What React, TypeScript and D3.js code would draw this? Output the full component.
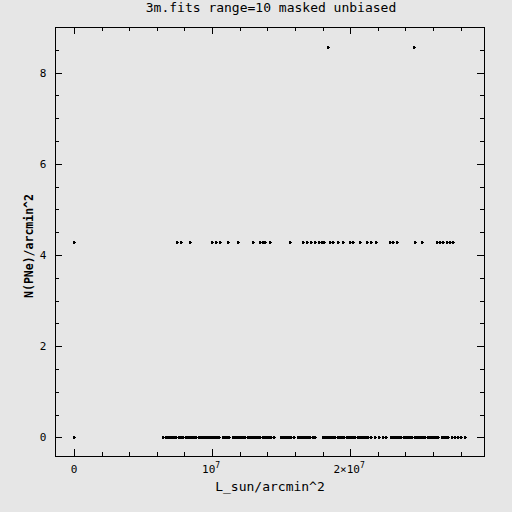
import React from 'react';
import * as d3 from 'd3';

// values in units of 1e7 L_sun/arcmin^2
const zeroRowX = [
  0, 0.645,
  0.667, 0.682, 0.697, 0.712, 0.727, 0.742, 0.757, 0.772, 0.787,
  0.812, 0.827, 0.842, 0.857, 0.872, 0.887, 0.902, 0.917, 0.932, 0.947, 0.962, 0.977, 0.992, 1.007, 1.022, 1.037, 1.052,
  1.080, 1.095, 1.110, 1.125,
  1.152, 1.167, 1.182, 1.197, 1.212, 1.227, 1.242, 1.257, 1.272, 1.287, 1.302, 1.317, 1.332, 1.347,
  1.370, 1.385, 1.400, 1.415, 1.430, 1.445,
  1.500, 1.515, 1.530, 1.545, 1.560, 1.575, 1.590,
  1.623, 1.638, 1.653, 1.668, 1.683, 1.698, 1.713, 1.728, 1.743,
  1.804, 1.819, 1.834, 1.849, 1.864, 1.879, 1.894, 1.909, 1.924, 1.939, 1.954,
  1.978, 1.993, 2.008, 2.023, 2.036,
  2.058, 2.073, 2.088, 2.103, 2.118, 2.133, 2.148,
  2.181, 2.210, 2.239, 2.261,
  2.297, 2.312, 2.327, 2.342, 2.357, 2.372, 2.387, 2.402, 2.417, 2.432, 2.447,
  2.471, 2.486, 2.501, 2.516, 2.531, 2.546, 2.561, 2.576, 2.591, 2.606, 2.621, 2.636,
  2.667, 2.682, 2.697, 2.712,
  2.739, 2.761, 2.783, 2.804, 2.833,
];

const oneRowX = [
  0, 0.744, 0.773, 0.841, 0.998, 1.029, 1.058, 1.118, 1.191, 1.295, 1.348, 1.367, 1.386, 1.420,
  1.565, 1.662, 1.686, 1.715, 1.746, 1.778, 1.795, 1.812, 1.855, 1.879, 1.915, 1.947,
  2.000, 2.024, 2.072, 2.121, 2.150, 2.188, 2.290, 2.314, 2.339, 2.471, 2.520,
  2.628, 2.652, 2.676, 2.701, 2.725, 2.749,
];

const twoRowX = [1.84, 2.46];

const densityLevels = [0, 4.28, 8.56];

const yMajorTicks = [0, 2, 4, 6, 8];
const xMajorTicks = [0, 1, 2];
const xTickLabels = ['0', '10', '2×10'];

const W = 512, H = 512;
const left = 55, right = 484, top = 27, bottom = 456;
const font = '"DejaVu Sans Mono", monospace';

export default function App() {
  const x = d3.scaleLinear().domain([-0.138, 2.97]).range([left, right]);
  const y = d3.scaleLinear().domain([-0.41, 9.0]).range([bottom, top]);

  const xMinor = d3.range(0, 2.97, 0.2);
  const yMinor = d3.range(0, 9.01, 0.5);

  const points: { px: number; py: number }[] = [];
  zeroRowX.forEach(v => points.push({ px: x(v), py: y(densityLevels[0]) }));
  oneRowX.forEach(v => points.push({ px: x(v), py: y(densityLevels[1]) }));
  twoRowX.forEach(v => points.push({ px: x(v), py: y(densityLevels[2]) }));

  const isMajorX = (v: number) => xMajorTicks.some(m => Math.abs(m - v) < 1e-6);
  const isMajorY = (v: number) => yMajorTicks.some(m => Math.abs(m - v) < 1e-6);

  return (
    <svg width={W} height={H} style={{ position: 'absolute', left: 0, top: 0, background: '#e6e6e6' }}
      shapeRendering="crispEdges">
      <rect x={0} y={0} width={W} height={H} fill="#e6e6e6" />
      <text x={271} y={12} textAnchor="middle" fontFamily={font} fontSize={13} fill="#000">
        3m.fits range=10 masked unbiased
      </text>

      {/* frame */}
      <rect x={left + 0.5} y={top + 0.5} width={right - left} height={bottom - top}
        fill="none" stroke="#000" strokeWidth={1} />

      {/* x ticks, bottom and top */}
      {xMinor.map((v, i) => {
        const px = Math.round(x(v)) + 0.5;
        const len = isMajorX(v) ? 7 : 4;
        return (
          <g key={'xt' + i} stroke="#000" strokeWidth={1}>
            <line x1={px} x2={px} y1={bottom} y2={bottom - len} />
            <line x1={px} x2={px} y1={top} y2={top + len} />
          </g>
        );
      })}
      {/* y ticks, left and right */}
      {yMinor.map((v, i) => {
        const py = Math.round(y(v)) + 0.5;
        const len = isMajorY(v) ? 7 : 4;
        return (
          <g key={'yt' + i} stroke="#000" strokeWidth={1}>
            <line x1={left} x2={left + len} y1={py} y2={py} />
            <line x1={right} x2={right - len} y1={py} y2={py} />
          </g>
        );
      })}

      {/* x tick labels */}
      {xMajorTicks.map((v, i) => (
        <text key={'xl' + i} x={x(v) + (i === 0 ? 0 : -1)} y={473} textAnchor="middle"
          fontFamily={font} fontSize={11} fill="#000">
          {xTickLabels[i]}
          {i > 0 && <tspan dy={-5} fontSize={8}>7</tspan>}
        </text>
      ))}
      {/* y tick labels */}
      {yMajorTicks.map((v, i) => (
        <text key={'yl' + i} x={43} y={y(v) + 4} textAnchor="middle"
          fontFamily={font} fontSize={11} fill="#000">
          {String(v)}
        </text>
      ))}

      <text x={270} y={491} textAnchor="middle" fontFamily={font} fontSize={13} fill="#000">
        L_sun/arcmin^2
      </text>
      <text transform={`translate(33,246) rotate(-90)`} textAnchor="middle"
        fontFamily={font} fontSize={11.5} fontWeight="bold" fill="#000">
        N(PNe)/arcmin^2
      </text>

      {/* markers */}
      <g fill="#000" shapeRendering="crispEdges">
        {points.map((p, i) => {
          const cx = Math.round(p.px);
          const cy = Math.round(p.py);
          return (
            <g key={'p' + i}>
              <rect x={cx - 1} y={cy - 1} width={2} height={1} />
              <rect x={cx - 1} y={cy} width={3} height={1} />
              <rect x={cx - 1} y={cy + 1} width={2} height={1} />
            </g>
          );
        })}
      </g>
    </svg>
  );
}
